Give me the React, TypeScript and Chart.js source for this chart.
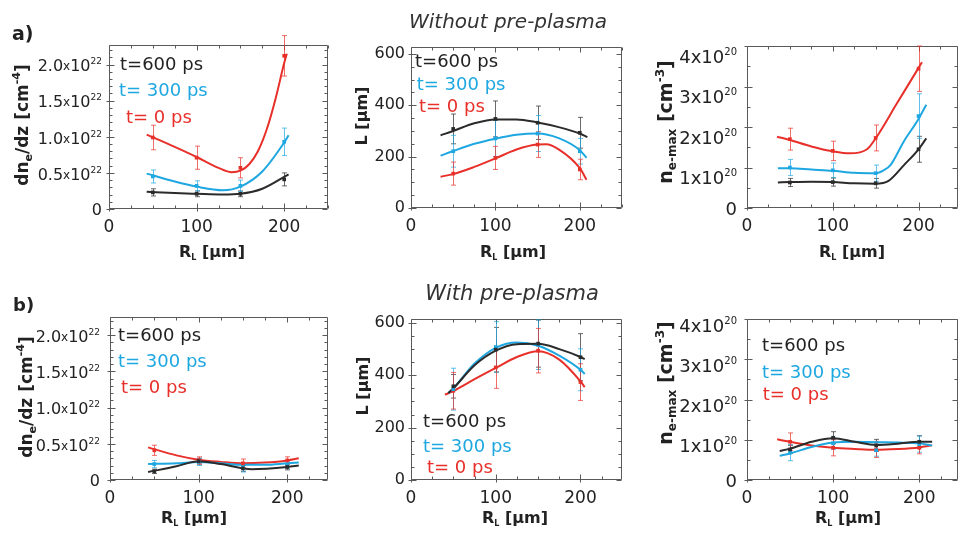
import React, { useEffect, useRef } from 'react';
import { Chart, registerables } from 'chart.js';
Chart.register(...registerables);

const FONT = '"DejaVu Sans", "Liberation Sans", sans-serif';
const RED = '#e8302a';
const BLUE = '#1ea7e1';
const BLACK = '#2b2b2b';
const TXT = '#222';

// ---- shared axis ticks / categories ----
const R_TICKS = [0, 100, 200];
const DN_TICKS = [0, 0.5, 1.0, 1.5, 2.0];
const L_TICKS = [0, 200, 400, 600];
const NE_TICKS = [0, 1, 2, 3, 4];
const X_PTS = [50, 100, 150, 200];
const LEGEND = ['t=600 ps', 't= 300 ps', 't= 0 ps'];

// ---- a) without pre-plasma: dn_e/dz (x10^22 cm^-4) ----
const A1_BLACK = [0.23, 0.21, 0.21, 0.41];
const A1_BLACK_ERR = [0.05, 0.04, 0.04, 0.09];
const A1_BLUE = [0.45, 0.32, 0.32, 0.93];
const A1_BLUE_ERR = [0.09, 0.07, 0.08, 0.19];
const A1_RED = [0.99, 0.71, 0.57, 2.12];
const A1_RED_ERR = [0.17, 0.16, 0.14, 0.28];
const A1_BLACK_FIT_X = [43, 75, 100, 130, 150, 175, 205];
const A1_BLACK_FIT_Y = [0.24, 0.22, 0.21, 0.2, 0.21, 0.28, 0.48];
const A1_BLUE_FIT_X = [43, 75, 100, 130, 150, 175, 200, 205];
const A1_BLUE_FIT_Y = [0.49, 0.38, 0.31, 0.26, 0.31, 0.52, 0.92, 1.02];
const A1_RED_FIT_X = [43, 75, 100, 125, 140, 150, 160, 170, 180, 190, 200, 203];
const A1_RED_FIT_Y = [1.03, 0.86, 0.72, 0.57, 0.51, 0.53, 0.62, 0.8, 1.1, 1.52, 2.02, 2.15];

// ---- a) L (um) ----
const A2_BLACK = [308, 347, 332, 293];
const A2_BLACK_ERR = [58, 70, 65, 60];
const A2_BLUE = [221, 271, 290, 221];
const A2_BLUE_ERR = [62, 70, 70, 50];
const A2_RED = [134, 195, 247, 150];
const A2_RED_ERR = [45, 45, 50, 40];
const A2_BLACK_FIT_X = [35, 50, 75, 100, 125, 150, 175, 200, 209];
const A2_BLACK_FIT_Y = [283, 300, 330, 345, 345, 333, 315, 290, 276];
const A2_BLUE_FIT_X = [35, 50, 75, 100, 125, 150, 175, 200, 208];
const A2_BLUE_FIT_Y = [204, 222, 250, 270, 285, 290, 272, 225, 195];
const A2_RED_FIT_X = [35, 50, 75, 100, 125, 150, 160, 175, 200, 208];
const A2_RED_FIT_Y = [122, 132, 160, 193, 228, 247, 248, 228, 155, 110];

// ---- a) n_e-max (x10^20 cm^-3) ----
const A3_BLACK = [0.63, 0.64, 0.61, 1.45];
const A3_BLACK_ERR = [0.1, 0.1, 0.12, 0.32];
const A3_BLUE = [1.0, 0.93, 0.86, 2.27];
const A3_BLUE_ERR = [0.2, 0.18, 0.2, 0.55];
const A3_RED = [1.7, 1.41, 1.73, 3.44];
const A3_RED_ERR = [0.27, 0.24, 0.32, 0.56];
const A3_BLACK_FIT_X = [36, 50, 75, 100, 125, 150, 165, 183, 200, 209];
const A3_BLACK_FIT_Y = [0.63, 0.64, 0.65, 0.64, 0.61, 0.6, 0.67, 1.06, 1.45, 1.72];
const A3_BLUE_FIT_X = [36, 50, 75, 100, 125, 150, 160, 167, 183, 200, 209];
const A3_BLUE_FIT_Y = [0.98, 0.98, 0.95, 0.92, 0.87, 0.86, 0.94, 1.05, 1.65, 2.2, 2.55];
const A3_RED_FIT_X = [35, 50, 75, 100, 120, 140, 150, 175, 200, 204];
const A3_RED_FIT_Y = [1.76, 1.68, 1.52, 1.4, 1.35, 1.45, 1.72, 2.59, 3.46, 3.6];

// ---- b) with pre-plasma: dn_e/dz ----
const B1_BLACK = [0.12, 0.26, 0.16, 0.18];
const B1_BLACK_ERR = [0.03, 0.04, 0.04, 0.04];
const B1_BLUE = [0.22, 0.25, 0.17, 0.21];
const B1_BLUE_ERR = [0.05, 0.05, 0.06, 0.05];
const B1_RED = [0.41, 0.27, 0.23, 0.27];
const B1_RED_ERR = [0.07, 0.05, 0.06, 0.05];
const B1_BLACK_FIT_X = [43, 75, 100, 125, 160, 200, 213];
const B1_BLACK_FIT_Y = [0.11, 0.19, 0.26, 0.22, 0.15, 0.18, 0.2];
const B1_BLUE_FIT_X = [43, 75, 100, 125, 150, 175, 200, 213];
const B1_BLUE_FIT_Y = [0.22, 0.23, 0.25, 0.23, 0.21, 0.21, 0.23, 0.24];
const B1_RED_FIT_X = [43, 75, 100, 125, 150, 175, 200, 213];
const B1_RED_FIT_Y = [0.45, 0.34, 0.28, 0.25, 0.23, 0.24, 0.27, 0.3];

// ---- b) L ----
const B2_BLACK = [358, 498, 521, 469];
const B2_BLACK_ERR = [45, 85, 90, 90];
const B2_BLUE = [347, 508, 517, 421];
const B2_BLUE_ERR = [80, 97, 95, 80];
const B2_RED = [341, 430, 494, 374];
const B2_RED_ERR = [70, 80, 85, 70];
const B2_BLACK_FIT_X = [44, 50, 75, 100, 125, 150, 175, 200, 205];
const B2_BLACK_FIT_Y = [332, 350, 438, 494, 519, 520, 500, 470, 462];
const B2_BLUE_FIT_X = [44, 50, 75, 100, 125, 150, 175, 200, 205];
const B2_BLUE_FIT_Y = [332, 350, 445, 505, 525, 513, 475, 421, 405];
const B2_RED_FIT_X = [40, 50, 75, 100, 125, 150, 175, 200, 205];
const B2_RED_FIT_Y = [326, 340, 385, 428, 470, 492, 460, 377, 355];

// ---- b) n_e-max ----
const B3_BLACK = [0.76, 1.05, 0.86, 0.95];
const B3_BLACK_ERR = [0.1, 0.15, 0.15, 0.15];
const B3_BLUE = [0.68, 0.91, 0.74, 0.89];
const B3_BLUE_ERR = [0.2, 0.15, 0.15, 0.2];
const B3_RED = [0.95, 0.8, 0.76, 0.8];
const B3_RED_ERR = [0.22, 0.2, 0.2, 0.15];
const B3_BLACK_FIT_X = [38, 50, 75, 100, 125, 150, 175, 200, 215];
const B3_BLACK_FIT_Y = [0.72, 0.78, 0.95, 1.04, 0.95, 0.87, 0.9, 0.95, 0.95];
const B3_BLUE_FIT_X = [38, 50, 75, 100, 125, 150, 175, 200, 215];
const B3_BLUE_FIT_Y = [0.6, 0.66, 0.82, 0.93, 0.95, 0.94, 0.93, 0.91, 0.86];
const B3_RED_FIT_X = [35, 50, 75, 100, 125, 150, 175, 200, 215];
const B3_RED_FIT_Y = [1.01, 0.95, 0.86, 0.8, 0.77, 0.75, 0.77, 0.81, 0.86];

// ---- text helpers ----
type Seg = { t: string; s: number; f?: string; dy?: number };
type TextItem = {
  segs: Seg[]; x: number; y: number; align?: 'left' | 'center' | 'right';
  color?: string; rot?: boolean; mid?: boolean;
};

const segFont = (s: Seg) => `${s.f ?? 'normal'} ${s.s}px ${FONT}`;

function drawItem(ctx: CanvasRenderingContext2D, it: TextItem) {
  ctx.save();
  ctx.fillStyle = it.color ?? TXT;
  ctx.textBaseline = 'alphabetic';
  ctx.textAlign = 'left';
  let w = 0;
  for (const s of it.segs) { ctx.font = segFont(s); w += ctx.measureText(s.t).width; }
  const mainS = Math.max(...it.segs.map((s) => s.s));
  const base = it.mid ? mainS * 0.3645 : 0;
  let x = it.align === 'center' ? -w / 2 : it.align === 'right' ? -w : 0;
  ctx.translate(it.x, it.y);
  if (it.rot) ctx.rotate(-Math.PI / 2);
  for (const s of it.segs) {
    ctx.font = segFont(s);
    ctx.fillText(s.t, x, base + (s.dy ?? 0));
    x += ctx.measureText(s.t).width;
  }
  ctx.restore();
}

const RL_TITLE: Seg[] = [{ t: 'R', s: 16, f: 'bold' }, { t: 'L', s: 8, f: 'bold', dy: 3 }, { t: ' [µm]', s: 16, f: 'bold' }];
const DN_TITLE: Seg[] = [
  { t: 'dn', s: 17, f: 'bold' }, { t: 'e', s: 11, f: 'bold', dy: 4 },
  { t: '/dz [cm', s: 17, f: 'bold' }, { t: '-4', s: 11, f: 'bold', dy: -8 }, { t: ']', s: 17, f: 'bold' },
];
const L_TITLE: Seg[] = [{ t: 'L [µm]', s: 16, f: 'bold' }];
const NE_TITLE: Seg[] = [
  { t: 'n', s: 19, f: 'bold' }, { t: 'e-max', s: 12, f: 'bold', dy: 4 },
  { t: ' [cm', s: 19, f: 'bold' }, { t: '-3', s: 12, f: 'bold', dy: -8 }, { t: ']', s: 19, f: 'bold' },
];

function legendItems(pos: number[][]): TextItem[] {
  const cols = [TXT, BLUE, RED];
  return LEGEND.map((t, i) => ({ segs: [{ t, s: 18 }], x: pos[i][0], y: pos[i][1], color: cols[i], mid: true }));
}

// ---- panel definitions ----
interface Series { color: string; pts: number[]; err: number[]; fx: number[]; fy: number[] }
interface Panel {
  area: number[]; xMax: number; yMax: number; yTicks: number[]; yMinor: number;
  yFmt: 'plain' | 'dn' | 'ne'; yLabOff: number; yLabGap: number;
  series: Series[]; texts: TextItem[];
}

const mk = (color: string, pts: number[], err: number[], fx: number[], fy: number[]): Series => ({ color, pts, err, fx, fy });

const PANELS: Panel[] = [
  {
    area: [109, 45, 328, 209], xMax: 250, yMax: 2.27, yTicks: DN_TICKS, yMinor: 0.1, yFmt: 'dn', yLabOff: 1, yLabGap: 7,
    series: [
      mk(BLACK, A1_BLACK, A1_BLACK_ERR, A1_BLACK_FIT_X, A1_BLACK_FIT_Y),
      mk(BLUE, A1_BLUE, A1_BLUE_ERR, A1_BLUE_FIT_X, A1_BLUE_FIT_Y),
      mk(RED, A1_RED, A1_RED_ERR, A1_RED_FIT_X, A1_RED_FIT_Y),
    ],
    texts: [
      ...legendItems([[120, 63], [119, 89.7], [126, 116.3]]),
      { segs: DN_TITLE, x: 22, y: 125, rot: true, align: 'center', mid: true },
      { segs: RL_TITLE, x: 212, y: 251, align: 'center', mid: true },
      { segs: [{ t: 'Without pre-plasma', s: 20, f: 'italic' }], x: 508, y: 28, align: 'center', color: '#333' },
      { segs: [{ t: 'With pre-plasma', s: 21, f: 'italic' }], x: 512, y: 300, align: 'center', color: '#333' },
      { segs: [{ t: 'a)', s: 19, f: 'bold' }], x: 12, y: 40 },
      { segs: [{ t: 'b)', s: 18, f: 'bold' }], x: 13, y: 311 },
    ],
  },
  {
    area: [411, 47, 622, 208], xMax: 250, yMax: 627, yTicks: L_TICKS, yMinor: 50, yFmt: 'plain', yLabOff: 0, yLabGap: 6,
    series: [
      mk(BLACK, A2_BLACK, A2_BLACK_ERR, A2_BLACK_FIT_X, A2_BLACK_FIT_Y),
      mk(BLUE, A2_BLUE, A2_BLUE_ERR, A2_BLUE_FIT_X, A2_BLUE_FIT_Y),
      mk(RED, A2_RED, A2_RED_ERR, A2_RED_FIT_X, A2_RED_FIT_Y),
    ],
    texts: [
      ...legendItems([[415, 60.5], [416.7, 83], [419, 105]]),
      { segs: L_TITLE, x: 361, y: 116, rot: true, align: 'center', mid: true },
      { segs: RL_TITLE, x: 513, y: 251, align: 'center', mid: true },
    ],
  },
  {
    area: [747, 46, 962, 208], xMax: 246, yMax: 4.0, yTicks: NE_TICKS, yMinor: 0.5, yFmt: 'ne', yLabOff: 10, yLabGap: 10,
    series: [
      mk(BLACK, A3_BLACK, A3_BLACK_ERR, A3_BLACK_FIT_X, A3_BLACK_FIT_Y),
      mk(BLUE, A3_BLUE, A3_BLUE_ERR, A3_BLUE_FIT_X, A3_BLUE_FIT_Y),
      mk(RED, A3_RED, A3_RED_ERR, A3_RED_FIT_X, A3_RED_FIT_Y),
    ],
    texts: [
      { segs: NE_TITLE, x: 665, y: 122, rot: true, align: 'center', mid: true },
      { segs: RL_TITLE, x: 852, y: 251, align: 'center', mid: true },
    ],
  },
  {
    area: [110, 317, 328, 480], xMax: 246, yMax: 2.25, yTicks: DN_TICKS, yMinor: 0.1, yFmt: 'dn', yLabOff: 1, yLabGap: 10,
    series: [
      mk(BLACK, B1_BLACK, B1_BLACK_ERR, B1_BLACK_FIT_X, B1_BLACK_FIT_Y),
      mk(BLUE, B1_BLUE, B1_BLUE_ERR, B1_BLUE_FIT_X, B1_BLUE_FIT_Y),
      mk(RED, B1_RED, B1_RED_ERR, B1_RED_FIT_X, B1_RED_FIT_Y),
    ],
    texts: [
      ...legendItems([[118, 334], [118, 360], [121, 386.7]]),
      { segs: DN_TITLE, x: 26, y: 397, rot: true, align: 'center', mid: true },
      { segs: RL_TITLE, x: 194, y: 517, align: 'center', mid: true },
    ],
  },
  {
    area: [411, 319, 622, 480], xMax: 249, yMax: 615, yTicks: L_TICKS, yMinor: 50, yFmt: 'plain', yLabOff: 0, yLabGap: 6,
    series: [
      mk(BLACK, B2_BLACK, B2_BLACK_ERR, B2_BLACK_FIT_X, B2_BLACK_FIT_Y),
      mk(BLUE, B2_BLUE, B2_BLUE_ERR, B2_BLUE_FIT_X, B2_BLUE_FIT_Y),
      mk(RED, B2_RED, B2_RED_ERR, B2_RED_FIT_X, B2_RED_FIT_Y),
    ],
    texts: [
      ...legendItems([[423, 420.7], [423, 445], [427, 466]]),
      { segs: L_TITLE, x: 362, y: 386, rot: true, align: 'center', mid: true },
      { segs: RL_TITLE, x: 515, y: 517, align: 'center', mid: true },
    ],
  },
  {
    area: [747, 319, 962, 480], xMax: 245, yMax: 4.0, yTicks: NE_TICKS, yMinor: 0.5, yFmt: 'ne', yLabOff: 6, yLabGap: 10,
    series: [
      mk(BLACK, B3_BLACK, B3_BLACK_ERR, B3_BLACK_FIT_X, B3_BLACK_FIT_Y),
      mk(BLUE, B3_BLUE, B3_BLUE_ERR, B3_BLUE_FIT_X, B3_BLUE_FIT_Y),
      mk(RED, B3_RED, B3_RED_ERR, B3_RED_FIT_X, B3_RED_FIT_Y),
    ],
    texts: [
      ...legendItems([[762, 344], [762, 371.7], [762.7, 393]]),
      { segs: NE_TITLE, x: 665, y: 383, rot: true, align: 'center', mid: true },
      { segs: RL_TITLE, x: 848, y: 517, align: 'center', mid: true },
    ],
  },
];

function withAlpha(hex: string, a: number) {
  const n = parseInt(hex.slice(1), 16);
  return `rgba(${(n >> 16) & 255},${(n >> 8) & 255},${n & 255},${a})`;
}

const Y_AXIS_W = 60;
const X_AXIS_H = 34;

function buildConfig(p: Panel): any {
  const [l, t, r, b] = p.area;
  const datasets: any[] = [];
  // marker datasets first (drawn on top)
  for (const s of p.series) {
    datasets.push({
      data: X_PTS.map((x, i) => ({ x, y: s.pts[i] })),
      showLine: false, pointStyle: 'rect', pointRadius: 2.6,
      backgroundColor: s.color, borderColor: s.color, borderWidth: 0,
    });
  }
  for (const s of p.series) {
    datasets.push({
      data: s.fx.map((x, i) => ({ x, y: s.fy[i] })),
      showLine: true, pointRadius: 0, borderColor: s.color, borderWidth: 2,
      cubicInterpolationMode: 'monotone', fill: false,
    });
  }

  const decor = {
    id: 'decor',
    beforeDatasetsDraw(chart: any) {
      const { ctx, chartArea: a, scales } = chart;
      const x = scales.x, y = scales.y;
      ctx.save();
      ctx.strokeStyle = '#5a5a5a';
      ctx.lineWidth = 1;
      const L = Math.round(a.left) + 0.5, R = Math.round(a.right) - 0.5;
      const T = Math.round(a.top) + 0.5, B = Math.round(a.bottom) - 0.5;
      ctx.beginPath();
      ctx.moveTo(L, T); ctx.lineTo(R, T); ctx.lineTo(R, B); ctx.lineTo(L, B); ctx.closePath();
      const seg = (x1: number, y1: number, x2: number, y2: number) => { ctx.moveTo(x1, y1); ctx.lineTo(x2, y2); };
      const nx = Math.floor(p.xMax / 25 + 1e-6);
      for (let i = 0; i <= nx; i++) {
        const v = i * 25;
        const px = Math.round(x.getPixelForValue(v)) + 0.5;
        const major = R_TICKS.some((tv) => Math.abs(tv - v) < 1e-6);
        const len = major ? 5 : 3;
        seg(px, B, px, B - len);
        seg(px, T, px, T + len);
        if (major) seg(px, B, px, B + 3);
      }
      const ny = Math.floor(p.yMax / p.yMinor + 1e-6);
      for (let i = 0; i <= ny; i++) {
        const v = i * p.yMinor;
        const py = Math.round(y.getPixelForValue(v)) + 0.5;
        const major = p.yTicks.some((tv) => Math.abs(tv - v) < 1e-6);
        const len = major ? 5 : 3;
        seg(L, py, L + len, py);
        seg(R, py, R - len, py);
        if (major) seg(L, py, L - 3, py);
      }
      ctx.stroke();
      // error bars
      for (const s of p.series) {
        ctx.beginPath();
        ctx.strokeStyle = withAlpha(s.color, 0.7);
        X_PTS.forEach((xv, i) => {
          const px = Math.round(x.getPixelForValue(xv)) + 0.5;
          const y1 = y.getPixelForValue(s.pts[i] + s.err[i]);
          const y2 = y.getPixelForValue(s.pts[i] - s.err[i]);
          seg(px, y1, px, y2);
          seg(px - 2.5, y1, px + 2.5, y1);
          seg(px - 2.5, y2, px + 2.5, y2);
        });
        ctx.stroke();
      }
      ctx.restore();
    },
    afterDraw(chart: any) {
      const { ctx, chartArea: a, scales } = chart;
      const y = scales.y;
      if (p.yFmt !== 'plain') {
        for (const v of p.yTicks) {
          const py = y.getPixelForValue(v);
          let segs: Seg[];
          if (v === 0) segs = [{ t: '0', s: p.yFmt === 'dn' ? 16 : 18 }];
          else if (p.yFmt === 'dn') segs = [{ t: v.toFixed(1), s: 16 }, { t: 'x', s: 12, dy: -1 }, { t: '10', s: 16 }, { t: '22', s: 9, dy: -7 }];
          else segs = [{ t: `${v}x10`, s: 18 }, { t: '20', s: 10, dy: -8 }];
          drawItem(ctx, { segs, x: a.left - p.yLabGap, y: py + (v === 0 ? 0 : p.yLabOff), align: 'right', mid: true });
        }
      }
      for (const it of p.texts) drawItem(ctx, it);
    },
  };

  return {
    type: 'scatter',
    data: { datasets },
    options: {
      responsive: false,
      animation: false,
      events: [],
      layout: { padding: { left: l - Y_AXIS_W, top: t, right: 962 - r, bottom: 535 - b - X_AXIS_H } },
      plugins: { legend: { display: false }, tooltip: { enabled: false } },
      scales: {
        x: {
          type: 'linear', min: 0, max: p.xMax,
          afterBuildTicks: (ax: any) => { ax.ticks = R_TICKS.map((v) => ({ value: v })); },
          afterFit: (ax: any) => { ax.height = X_AXIS_H; },
          grid: { display: false, drawTicks: false },
          border: { display: false },
          ticks: { color: TXT, font: { family: FONT, size: 17 }, padding: 8, maxRotation: 0, autoSkip: false },
        },
        y: {
          type: 'linear', min: 0, max: p.yMax,
          afterBuildTicks: (ax: any) => { ax.ticks = p.yTicks.map((v) => ({ value: v })); },
          afterFit: (ax: any) => { ax.width = Y_AXIS_W; },
          grid: { display: false, drawTicks: false },
          border: { display: false },
          ticks: { display: p.yFmt === 'plain', color: TXT, font: { family: FONT, size: 16 }, padding: 6, autoSkip: false },
        },
      },
    },
    plugins: [decor],
  };
}

function PanelChart({ p }: { p: Panel }) {
  const ref = useRef<HTMLCanvasElement | null>(null);
  useEffect(() => {
    if (!ref.current) return;
    const chart = new Chart(ref.current, buildConfig(p));
    return () => chart.destroy();
  }, [p]);
  return (
    <canvas
      ref={ref}
      width={962}
      height={535}
      style={{ position: 'absolute', left: 0, top: 0, width: 962, height: 535 }}
    />
  );
}

export default function App() {
  return (
    <div style={{ position: 'fixed', left: 0, top: 0, width: 962, height: 535, overflow: 'hidden', background: '#fff' }}>
      {PANELS.map((p, i) => (
        <PanelChart key={i} p={p} />
      ))}
    </div>
  );
}
